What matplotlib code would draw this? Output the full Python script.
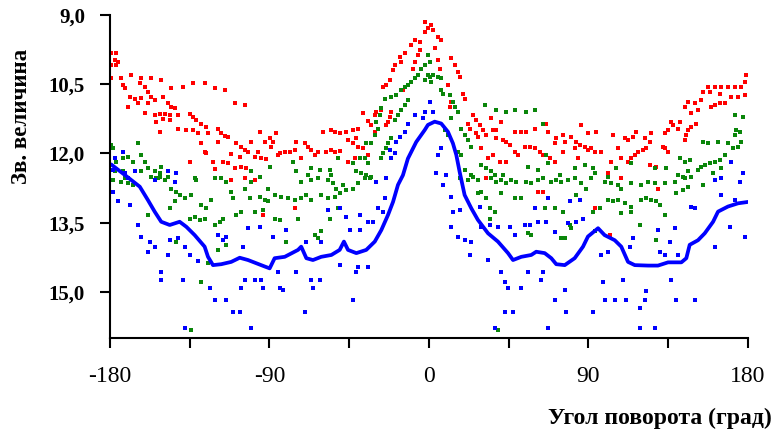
import numpy as np
import matplotlib
matplotlib.use('Agg')
import matplotlib.pyplot as plt

plt.rcParams['font.family'] = ['Liberation Serif', 'DejaVu Serif']

# angle (deg) / magnitude of the smoothed blue curve
line_x = [-178.9, -171.5, -163.2, -158.6, -154.8, -151.1, -146.3, -140.7, -136.9, -132.2,
          -126.6, -124.7, -121.9, -117.2, -111.6, -106.8, -102.1, -97.4, -92.7, -89.9,
          -87.1, -81.4, -73.9, -72.1, -69.2, -65.5, -60.8, -55.1, -50.4, -48.0,
          -45.7, -41.0, -35.4, -30.6, -26.9, -23.1, -20.3, -17.5, -14.7, -11.9,
          -7.2, -2.4, -0.6, 3.2, 6.9, 10.7, 13.5, 15.4, 17.3, 20.1,
          23.9, 27.6, 33.3, 38.9, 44.6, 47.4, 52.1, 57.7, 60.5, 65.3,
          69.0, 71.8, 76.6, 82.2, 86.9, 89.7, 95.4, 99.1, 104.8, 108.5,
          112.3, 116.1, 123.6, 129.2, 134.9, 142.4, 145.2, 147.1, 151.8, 155.6,
          160.3, 163.1, 168.7, 174.4, 180.0]
line_y = [12.25, 12.47, 12.72, 13.01, 13.26, 13.48, 13.55, 13.48, 13.59, 13.77,
          14.02, 14.24, 14.42, 14.40, 14.35, 14.26, 14.31, 14.38, 14.45, 14.49,
          14.27, 14.24, 14.09, 14.02, 14.27, 14.31, 14.24, 14.20, 14.09, 13.91,
          14.09, 14.16, 14.09, 13.91, 13.66, 13.33, 13.05, 12.68, 12.47, 12.11,
          11.75, 11.49, 11.38, 11.31, 11.35, 11.53, 11.78, 12.03, 12.40, 12.90,
          13.19, 13.44, 13.73, 13.91, 14.16, 14.31, 14.24, 14.20, 14.13, 14.16,
          14.27, 14.40, 14.42, 14.27, 14.02, 13.80, 13.62, 13.77, 13.88, 14.02,
          14.35, 14.42, 14.43, 14.43, 14.36, 14.36, 14.27, 13.98, 13.88, 13.73,
          13.48, 13.26, 13.15, 13.08, 13.05]

red_x = [-179.3, -176.4, -177.4, -175.5, -176.4, -179.6, -179.5, -173.6, -172.7, -171.7,
         -168.0, -162.3, -156.7, -151.0, -163.3, -160.4, -158.6, -156.7, -154.8, -168.9,
         -166.1, -162.3, -164.2, -169.8, -158.6, -150.1, -145.4, -138.8, -133.2, -126.6,
         -120.9, -115.3, -147.3, -145.4, -143.5, -160.4, -154.8, -152.0, -149.2, -146.3,
         -153.9, -150.1, -146.3, -141.6, -135.1, -133.2, -131.3, -128.5, -125.6, -141.6,
         -136.9, -133.2, -130.4, -152.0, -124.7, -119.1, -117.2, -115.3, -113.4, -119.1,
         -128.5, -126.6, -125.6, -109.7, -104.0, -108.7, -105.9, -104.0, -102.1, -100.3,
         -95.6, -92.7, -98.4, -94.6, -91.8, -111.6, -116.2, -113.4, -106.8, -105.9,
         -109.7, -103.1, -135.1, -121.9, -120.9, -96.5,
         -2.5, -0.6, -2.5, -8.1, -5.3, -10.0, -5.3, -6.2, -8.1, -9.1,
         -13.7, -16.6, -15.6, -19.4, -20.3, -22.2, -24.1, -26.0, -14.7, -21.3,
         -22.2, -23.1, -24.1, -26.9, -29.7, -30.7, -37.3, -34.4, -32.6, -40.1,
         -42.9, -46.7, -50.4, -53.2, -59.8, -45.7, -42.9, -41.0, -53.2, -50.4,
         -55.1, -57.9, -62.6, -66.4, -64.5, -70.2, -68.3, -75.8, -78.6, -81.4,
         -84.3, -86.1, -88.0, -89.9, -89.0, -85.2, -74.9, -72.0, -45.7, -42.0,
         -40.1, -37.3, -34.4, -30.7, -28.8, -55.1,
         1.3, 2.3, 5.1, 6.9, 3.2, 12.6, 14.5, 16.4, 17.3, 6.0,
         5.1, 10.7, 19.2, 20.1, 12.6, 11.7, 24.8, 26.7, 28.6, 30.5,
         32.3, 22.0, 22.9, 35.2, 40.8, 26.7, 27.6, 36.1, 38.0, 41.7,
         43.6, 45.5, 48.3, 52.1, 54.9, 54.0, 56.8, 59.6, 62.4, 64.3,
         59.6, 66.2, 67.1, 71.8, 70.9, 75.6, 76.5, 75.6, 80.3, 83.1,
         85.9, 85.0, 87.8, 89.7, 82.2, 84.1, 33.3, 36.1, 39.9, 43.6,
         48.3, 50.2, 68.1, 70.9, 29.5, 38.0,
         179.0, 178.1, 176.2, 172.5, 168.7, 165.0, 161.2, 157.4, 154.6, 158.3,
         164.0, 170.6, 174.3, 178.1, 166.8, 164.0, 161.2, 159.3, 153.6, 149.9,
         146.1, 144.2, 151.8, 148.0, 150.8, 148.0, 146.1, 145.2, 144.2, 136.7,
         134.9, 133.0, 140.5, 125.4, 121.7, 124.5, 117.0, 115.1, 133.0, 134.9,
         132.0, 117.9, 120.7, 122.6, 116.1, 114.2, 112.3, 110.4, 112.3, 103.8,
         94.4, 89.7, 91.6, 93.5, 97.2, 102.9, 106.6, 108.5, 124.5, 128.3,
         101.0, 137.7, 141.4,
         -111.6, -98.4, -104.0, -93.7, -75.8, 32.3, 61.5, 64.3, 93.5, 102.0,
         108.5, 129.2]
red_y = [9.83, 9.83, 9.98, 10.01, 10.08, 10.08, 10.37, 10.37, 10.52, 10.59,
         10.30, 10.36, 10.37, 10.41, 10.48, 10.55, 10.66, 10.77, 10.84, 10.77,
         10.81, 10.79, 10.91, 10.99, 10.91, 10.77, 10.57, 10.55, 10.48, 10.48,
         10.57, 10.63, 10.91, 10.99, 11.02, 11.13, 11.17, 11.15, 11.15, 11.17,
         11.31, 11.25, 11.28, 11.17, 11.15, 11.20, 11.28, 11.35, 11.42, 11.46,
         11.49, 11.49, 11.56, 11.54, 11.56, 11.46, 11.56, 11.62, 11.64, 11.75,
         11.78, 11.96, 12.00, 10.91, 10.95, 11.78, 11.85, 11.93, 11.96, 11.75,
         11.53, 11.75, 12.07, 12.09, 12.11, 12.02, 12.18, 12.21, 12.07, 12.29,
         12.32, 12.32, 12.18, 12.18, 12.34, 11.96,
         9.14, 9.29, 9.36, 9.54, 9.58, 9.65, 9.76, 9.87, 10.01, 10.16,
         9.83, 9.90, 10.01, 10.08, 10.19, 10.41, 10.52, 10.55, 10.62, 11.09,
         11.20, 11.31, 11.38, 11.06, 11.09, 11.17, 11.13, 11.30, 11.38, 11.46,
         11.49, 11.53, 11.56, 11.53, 11.53, 11.71, 11.78, 11.67, 11.96, 11.95,
         11.92, 11.96, 11.96, 11.92, 12.03, 11.78, 11.85, 11.92, 11.96, 11.96,
         12.00, 11.56, 11.74, 11.67, 11.85, 12.03, 11.74, 12.10, 12.18, 12.10,
         11.85, 11.89, 12.03, 11.53, 11.46, 11.49,
         9.22, 9.33, 9.47, 9.54, 9.72, 9.94, 10.08, 10.23, 10.34, 10.16,
         9.98, 10.52, 10.70, 10.81, 10.88, 10.99, 11.17, 11.28, 11.38, 11.49,
         11.60, 11.35, 11.46, 11.24, 11.31, 11.56, 11.64, 11.49, 11.67, 11.71,
         11.74, 11.82, 11.53, 11.53, 11.53, 11.85, 11.85, 11.89, 11.96, 12.03,
         11.46, 11.35, 11.53, 11.67, 11.78, 11.60, 11.74, 11.96, 11.64, 11.74,
         11.38, 11.82, 11.85, 11.93, 11.89, 12.10, 12.10, 12.03, 12.18, 12.18,
         11.96, 12.03, 12.10, 12.18, 11.89, 11.49,
         10.30, 10.44, 10.55, 10.55, 10.55, 10.55, 10.55, 10.55, 10.66, 10.66,
         10.70, 10.77, 10.77, 10.73, 10.91, 10.91, 10.95, 10.99, 10.84, 10.91,
         10.88, 10.99, 11.06, 11.13, 11.35, 11.42, 11.49, 11.60, 11.71, 11.31,
         11.49, 11.56, 11.46, 11.56, 11.67, 11.74, 11.53, 11.64, 11.89, 11.96,
         11.85, 11.96, 11.92, 11.89, 12.03, 12.10, 12.18, 11.67, 11.71, 11.60,
         11.53, 11.56, 11.89, 11.96, 11.96, 12.18, 11.89, 12.10, 12.25, 12.29,
         12.43, 11.38, 11.31,
         12.58, 12.58, 12.54, 13.33, 13.19, 12.54, 12.83, 12.83, 13.19, 13.77,
         12.54, 12.76]

green_x = [-179.5, -178.3, -176.4, -177.4, -172.7, -169.8, -167.0, -164.2, -162.3, -160.4,
           -158.6, -154.8, -152.0, -151.0, -162.3, -172.7, -156.7, -152.9, -132.2, -120.9,
           -100.3, -95.6,
           -2.5, -4.4, -6.2, -8.1, -10.0, -11.9, -13.7, -15.6, -18.5, -21.3,
           -2.5, -0.6, -11.9, -13.7, -15.6, -17.4, -19.4, -25.0, -26.9, -27.9,
           -29.7, -28.8, -21.3, -23.1, -24.1, -26.0, -26.9, -30.7, -32.6, -35.4,
           -36.3, -39.1, -34.4, -42.9, -41.0, -38.2, -35.4, -33.5, -51.4, -56.1,
           -55.1, -61.7, -66.4, -68.3, -76.7, -74.9, -89.9,
           0.4, 2.3, 5.1, 7.0, 0.4, -0.6, 1.3, 6.9, 7.9, 11.7,
           13.5, 14.5, 16.4, 12.6, 8.8, 10.7, 18.2, 20.1, 22.0, 23.9,
           16.4, 18.2, 31.4, 38.0, 43.6, 48.3, 54.9, 59.6, 64.3, 29.5,
           32.3, 35.2, 37.0, 23.9, 20.1, 27.6, 41.7, 55.9, 61.5, 67.1,
           73.7, 82.2, 87.8, 66.2,
           172.5, 177.1, 173.4, 175.3, 172.5, 176.2, 174.3, 171.5, 168.7, 166.8,
           164.0, 161.2, 158.3, 155.5, 153.6, 151.8, 147.1, 144.2, 141.4, 154.6,
           157.4, 163.0, 140.5, 143.3, 146.1, 133.9, 127.3, 114.2, 105.7, 92.5,
           93.5, 164.9, 160.2,
           -178.3, -173.6, -169.8, -167.0, -171.7, -156.7, -153.9, -152.0, -149.2, -147.3,
           -145.4, -142.6, -140.7, -137.9, -143.5, -146.3, -134.1, -131.3, -128.5, -125.6,
           -122.9, -135.1, -132.2, -129.4, -126.6, -121.0, -118.1, -116.2, -111.6, -110.6,
           -108.7, -105.9, -104.0, -101.2, -100.3, -95.6, -92.8, -90.9, -98.4, -93.7,
           -117.2, -114.4, -158.6, -142.6, -128.5, -134.1, -124.7, -119.1, -114.4,
           -90.9, -87.1, -83.3, -79.6, -75.8, -72.0, -69.2, -66.4, -60.8, -57.0,
           -53.2, -50.4, -46.7, -43.0, -40.1, -36.3, -32.6, -54.2, -52.3, -48.6,
           -72.0, -66.4, -62.6, -57.0, -87.1, -84.3, -73.9, -64.5, -62.6, -56.1,
           -51.4, -80.5, -60.8,
           17.3, 22.0, 24.8, 35.2, 38.0, 40.8, 43.6, 46.4, 49.3, 54.9,
           57.7, 61.5, 64.3, 69.0, 71.8, 74.6, 78.4, 82.2, 86.0, 88.7,
           27.6, 29.5, 32.3, 34.2, 37.0, 34.2, 40.8, 48.3, 52.1, 55.9,
           57.7, 65.2, 70.9, 75.6, 79.3, 80.3, 74.6, 76.5, 83.1, 38.9,
           91.6, 99.1, 101.0, 102.9, 106.6, 108.5, 114.2, 119.8, 123.6, 127.3,
           133.0, 138.6, 144.2, 148.0, 101.0, 103.8, 106.6, 110.4, 114.2, 119.8,
           122.6, 125.4, 128.3, 130.1, 139.5, 143.3, 146.1, 154.6, 92.5, 96.3,
           108.5, 114.2, 118.9, 128.3, 133.0, 93.5]
green_y = [11.82, 11.89, 12.18, 12.39, 12.10, 12.07, 12.18, 11.78, 12.03, 12.18,
           12.32, 12.39, 12.43, 12.29, 12.39, 12.39, 12.50, 12.54, 12.54, 12.54,
           12.39, 12.50,
           10.08, 10.16, 10.30, 10.37, 10.44, 10.52, 10.55, 10.62, 10.73, 10.77,
           10.41, 10.30, 10.84, 10.95, 11.06, 11.17, 11.28, 10.81, 11.02, 11.17,
           11.31, 11.46, 11.67, 11.78, 11.89, 12.00, 12.10, 11.60, 11.78, 11.78,
           12.10, 12.10, 12.21, 12.21, 12.39, 12.43, 12.47, 12.54, 12.10, 12.36,
           12.47, 12.36, 12.32, 12.47, 12.18, 12.39, 12.29,
           10.34, 10.30, 10.34, 10.37, 10.01, 9.87, 10.44, 10.62, 10.70, 10.73,
           10.88, 10.99, 11.09, 11.24, 11.49, 11.60, 11.46, 11.60, 11.71, 11.85,
           11.96, 12.03, 10.95, 11.06, 11.09, 11.06, 11.09, 11.06, 11.35, 12.25,
           12.32, 12.39, 12.47, 12.47, 12.36, 12.57, 12.47, 12.29, 12.36, 12.21,
           12.47, 12.32, 12.25, 12.03,
           11.17, 11.20, 11.49, 11.53, 11.60, 11.74, 11.85, 11.89, 11.78, 12.03,
           12.14, 12.18, 12.21, 12.25, 12.29, 12.36, 12.14, 12.18, 12.10, 11.74,
           11.78, 11.74, 12.47, 12.50, 12.39, 12.32, 12.32, 12.21, 12.32, 12.32,
           12.43, 12.32, 12.43,
           12.58, 12.61, 12.65, 12.68, 12.54, 12.50, 12.54, 12.50, 12.58, 12.50,
           12.76, 12.83, 12.90, 12.97, 13.04, 13.19, 12.90, 12.58, 13.12, 13.19,
           13.01, 13.41, 13.37, 13.44, 13.41, 13.55, 13.48, 13.41, 12.83, 12.97,
           13.33, 13.26, 12.76, 12.97, 12.61, 12.94, 13.01, 13.04, 13.26, 13.22,
           12.54, 12.61, 13.33, 13.91, 14.78, 15.82, 14.38, 14.09, 13.98,
           12.76, 12.90, 12.94, 12.97, 13.01, 12.97, 12.90, 13.01, 12.90, 12.97,
           12.94, 12.86, 12.79, 12.76, 12.65, 12.54, 12.50, 12.65, 12.76, 12.68,
           12.61, 12.58, 12.54, 12.58, 13.41, 13.44, 13.41, 13.77, 13.84, 13.41,
           13.19, 13.91, 13.69,
           12.54, 12.58, 12.50, 12.54, 12.61, 12.58, 12.65, 12.58, 12.61, 12.61,
           12.65, 12.58, 12.54, 12.61, 12.58, 12.61, 12.58, 12.54, 12.65, 12.76,
           12.86, 12.83, 12.97, 13.19, 13.26, 13.41, 12.86, 12.97, 12.97, 13.73,
           13.77, 13.19, 13.19, 13.26, 13.55, 13.62, 13.84, 13.84, 12.90, 15.82,
           12.54, 12.61, 12.50, 12.65, 12.68, 12.76, 12.65, 12.68, 12.61, 12.65,
           12.65, 12.61, 12.54, 12.50, 13.01, 13.04, 13.01, 13.08, 13.15, 13.01,
           12.97, 13.01, 13.04, 13.12, 12.86, 12.79, 12.72, 12.68, 13.26, 13.19,
           13.30, 13.26, 13.55, 13.88, 13.33, 13.69]

blue_x = [-172.7, -177.4, -178.3, -171.7, -166.1, -147.3, -142.6,
          -8.1, -3.4, -2.5, -11.9, -13.7, -16.6, -18.5, -22.2, -19.4, -21.3,
          2.3, 0.4, 6.9, 5.1, 9.8, 4.1, 170.6, 177.1, 165.0,
          -178.3, -175.5, -168.9, -164.2, -162.3, -157.6, -158.6, -154.8, -151.0, -151.0,
          -138.8, -137.9, -146.3, -141.6, -137.9, -135.1, -130.4, -147.3, -123.8, -121.0,
          -114.4, -110.6, -106.9, -104.0, -98.4, -94.6, -93.7, -105.9, -116.2, -119.1,
          -114.4, -105.0, -102.2, -95.6, -100.3, -169.8, -154.8, -143.5,
          -85.2, -82.4, -84.3, -74.9, -66.4, -61.7, -65.5, -50.4, -41.0, -40.1,
          -34.4, -42.9, -70.2, -57.0, -50.4, -46.7, -39.1, -34.4, -31.6, -28.8,
          -26.0, -25.0, -29.7, -24.1, -88.0, -80.5, -69.2, -60.8, -44.8, -39.1,
          7.9, 12.6, 13.5, 17.3, 12.6, 16.4, 20.1, 23.9, 22.9, 29.5,
          34.2, 38.9, 45.5, 48.3, 54.0, 56.8, 61.5, 66.2, 70.9, 78.4,
          83.1, 86.9, 79.3, 85.0, 59.6, 67.1, 40.8, 42.7, 44.6, 52.1,
          55.9, 64.3, 63.4, 76.5, 70.9, 42.7, 47.4, 77.5, 37.0, 67.1,
          33.3, 28.6,
          97.2, 101.0, 98.2, 109.5, 99.1, 104.8, 111.3, 122.6, 121.7, 136.7,
          139.5, 149.9, 118.9, 92.5, 118.9, 127.3, 161.2, 161.2, 175.3, 178.1,
          169.6, 164.9, 172.4, 149.9, 148.0, 138.6, 129.2, 115.1, 113.2, 135.8,
          130.1, 133.0, 140.5]
blue_y = [11.96, 12.10, 12.36, 12.43, 12.39, 12.39, 12.43,
          11.17, 11.24, 11.09, 11.35, 11.53, 11.64, 11.74, 11.92, 12.00, 12.10,
          11.09, 10.88, 11.89, 12.03, 12.47, 12.43, 12.18, 12.43, 12.54,
          12.83, 13.04, 13.12, 13.55, 13.80, 13.91, 14.13, 14.02, 14.56, 14.74,
          14.74, 15.79, 13.87, 13.84, 14.02, 14.20, 14.34, 14.20, 14.92, 15.17,
          15.17, 15.43, 15.43, 14.74, 14.74, 14.74, 14.92, 14.92, 13.87, 13.77,
          13.80, 14.02, 13.62, 13.59, 15.79, 12.54, 12.58, 12.61,
          14.56, 14.96, 14.92, 14.56, 14.74, 14.74, 14.92, 14.42, 14.56, 14.45,
          14.45, 15.17, 15.43, 13.23, 13.19, 13.37, 13.33, 13.48, 13.48, 13.19,
          13.26, 12.97, 12.61, 12.54, 13.80, 13.66, 13.91, 13.91, 13.66, 13.66,
          12.68, 12.94, 13.26, 13.23, 13.59, 13.80, 13.87, 13.91, 14.20, 13.59,
          13.55, 13.59, 13.59, 13.77, 13.55, 13.55, 13.48, 13.48, 13.70, 13.51,
          13.48, 13.41, 13.04, 13.01, 13.19, 12.97, 14.56, 14.78, 14.92, 14.92,
          14.56, 14.56, 14.74, 14.96, 15.17, 15.43, 15.43, 15.43, 15.79, 15.79,
          14.31, 13.15,
          14.20, 14.13, 14.78, 14.74, 15.17, 15.17, 15.17, 14.99, 15.17, 14.74,
          15.17, 15.17, 15.36, 15.43, 15.79, 15.79, 14.02, 12.58, 12.61, 13.80,
          13.59, 12.90, 13.01, 13.19, 13.15, 13.62, 13.66, 13.84, 14.02, 13.91,
          14.13, 14.20, 14.20]

x_ticks = [-180, -135, -90, -45, 0, 45, 90, 135, 180]
x_labels = ['-180', '', '-90', '', '0', '', '90', '', '180']
y_ticks = [9.0, 10.5, 12.0, 13.5, 15.0]
y_labels = ['9,0', '10,5', '12,0', '13,5', '15,0']

fig = plt.figure(figsize=(7.79, 4.32), dpi=100)
ax = fig.add_axes([0.1412, 0.2176, 0.8190, 0.7474])

ms = 2.2
ax.plot(red_x, red_y, 's', color='#ff0000', ms=ms, mew=0)
ax.plot(green_x, green_y, 's', color='#0a860a', ms=ms, mew=0)
ax.plot(blue_x, blue_y, 's', color='#0000ff', ms=ms, mew=0)
ax.plot(line_x, line_y, '-', color='#0000ff', lw=2.7)

ax.set_xlim(-180, 180)
ax.set_ylim(16.0, 9.0)
for s in ['top', 'right']:
    ax.spines[s].set_visible(False)
for s in ['left', 'bottom']:
    ax.spines[s].set_linewidth(1.5)

ax.set_xticks(x_ticks)
ax.set_xticklabels(x_labels, fontsize=17)
ax.set_yticks(y_ticks)
ax.set_yticklabels(y_labels, fontsize=15, fontweight='bold')
ax.tick_params(axis='x', direction='out', length=7, width=1.5, pad=13)
ax.tick_params(axis='y', direction='out', length=7, width=1.5, pad=11)

fig.text(0.027, 0.73, 'Зв. величина', rotation=90, ha='center', va='center',
         fontsize=16.5, fontweight='bold')
fig.text(0.991, 0.032, 'Угол поворота (град)', ha='right', va='center',
         fontsize=17, fontweight='bold')

fig.savefig('out.png', dpi=100)
